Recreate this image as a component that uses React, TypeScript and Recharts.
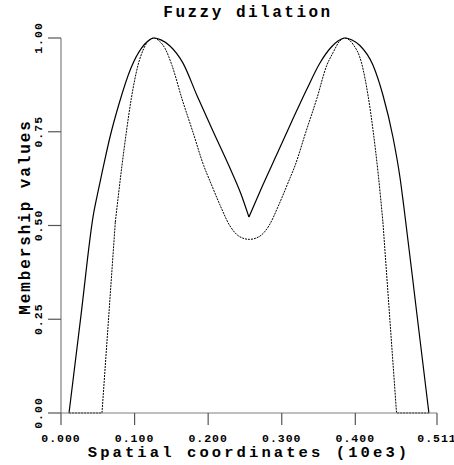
import { LineChart, Line, XAxis, YAxis } from 'recharts';

// dilated membership function (outer, solid)
const dilatedX = [
  0.0109, 0.0272, 0.0442, 0.0493, 0.0571, 0.0666, 0.0788, 0.0951, 0.1094, 0.1182, 0.1264, 0.1359,
  0.1481, 0.1658, 0.1848, 0.2065, 0.2296, 0.2446, 0.2554, 0.2731, 0.2935, 0.3139, 0.3342, 0.3519,
  0.3668, 0.3764, 0.3859, 0.3954, 0.4062, 0.4239, 0.4375, 0.4511, 0.4606, 0.466, 0.483, 0.5,
];
const dilatedY = [
  0, 0.261, 0.531, 0.5813, 0.653, 0.736, 0.824, 0.92, 0.973, 0.992, 1.0, 0.995,
  0.9787, 0.933, 0.8467, 0.752, 0.6533, 0.584, 0.5227, 0.6027, 0.6907, 0.7787, 0.864, 0.9333,
  0.9747, 0.992, 1.0, 0.9947, 0.98, 0.928, 0.848, 0.736, 0.6293, 0.5493, 0.2747, 0,
];

// original membership function (inner, dotted)
const originalX = [
  0.011, 0.0557, 0.0738, 0.0829, 0.0888, 0.0955, 0.1046, 0.1123, 0.119, 0.126, 0.133, 0.1417,
  0.1508, 0.1644, 0.1793, 0.1938, 0.203, 0.216, 0.2296, 0.243, 0.256, 0.269, 0.2825, 0.296,
  0.309, 0.3182, 0.3327, 0.3476, 0.3612, 0.37, 0.378, 0.386, 0.392, 0.397, 0.4085, 0.4175,
  0.424, 0.431, 0.4375, 0.456, 0.5,
];
const originalY = [
  0, 0, 0.509, 0.6605, 0.749, 0.838, 0.927, 0.971, 0.993, 1.0, 0.993, 0.971,
  0.927, 0.838, 0.749, 0.6605, 0.616, 0.555, 0.499, 0.47, 0.463, 0.47, 0.499, 0.555,
  0.616, 0.6605, 0.749, 0.838, 0.927, 0.962, 0.99, 1.0, 0.994, 0.983, 0.933, 0.844,
  0.755, 0.639, 0.509, 0, 0,
];

const xTicks = [0, 0.1, 0.2, 0.3, 0.4, 0.511];
const yTicks = [0, 0.25, 0.5, 0.75, 1.0];

const dilated = dilatedX.map((x, i) => ({ x, y: dilatedY[i] }));
const original = originalX.map((x, i) => ({ x, y: originalY[i] }));

// smooth arches, sharp V in the dilated curve, straight feet on the original
const dilatedParts = [
  { data: dilated.slice(0, 19), type: 'monotone' },
  { data: dilated.slice(18), type: 'monotone' },
];
const originalParts = [
  { data: original.slice(0, 3), type: 'linear' },
  { data: original.slice(2, 39), type: 'monotone' },
  { data: original.slice(38), type: 'linear' },
];

const FONT = '"Liberation Mono", "DejaVu Sans Mono", monospace';

// eslint-disable-next-line @typescript-eslint/no-explicit-any
function XTick({ x, y, payload }: any) {
  return (
    <text
      x={x}
      y={y + 15}
      textAnchor="middle"
      fontFamily={FONT}
      fontWeight="bold"
      fontSize={11.5}
      letterSpacing={1}
      fill="#000"
    >
      {Number(payload.value).toFixed(3)}
    </text>
  );
}

// eslint-disable-next-line @typescript-eslint/no-explicit-any
function YTick({ x, y, payload }: any) {
  const bx = x - 4;
  return (
    <text
      x={bx}
      y={y}
      transform={`rotate(-90, ${bx}, ${y})`}
      textAnchor="middle"
      fontFamily={FONT}
      fontWeight="bold"
      fontSize={11.5}
      letterSpacing={1}
      fill="#000"
    >
      {Number(payload.value).toFixed(2)}
    </text>
  );
}

export default function App() {
  return (
    <div style={{ position: 'fixed', left: 0, top: 0, width: 454, height: 465, background: '#fff' }}>
      <LineChart
        width={454}
        height={465}
        margin={{ top: 38, right: 17, left: 0, bottom: 0 }}
      >
        <XAxis
          type="number"
          dataKey="x"
          domain={[0, 0.511]}
          ticks={xTicks}
          allowDataOverflow
          height={52}
          tickSize={12}
          axisLine={{ stroke: '#808080', strokeWidth: 1.2 }}
          tickLine={{ stroke: '#555', strokeWidth: 1.2 }}
          tick={<XTick />}
          interval={0}
        />
        <YAxis
          type="number"
          dataKey="y"
          domain={[0, 1]}
          ticks={yTicks}
          width={61}
          tickSize={13}
          axisLine={{ stroke: '#808080', strokeWidth: 1.2 }}
          tickLine={{ stroke: '#555', strokeWidth: 1.2 }}
          tick={<YTick />}
          interval={0}
        />
        {originalParts.map((p, i) => (
          <Line
            key={`orig-${i}`}
            data={p.data}
            dataKey="y"
            // eslint-disable-next-line @typescript-eslint/no-explicit-any
            type={p.type as any}
            stroke="#000"
            strokeWidth={1}
            strokeDasharray="2 1"
            dot={false}
            isAnimationActive={false}
          />
        ))}
        {dilatedParts.map((p, i) => (
          <Line
            key={`dil-${i}`}
            data={p.data}
            dataKey="y"
            // eslint-disable-next-line @typescript-eslint/no-explicit-any
            type={p.type as any}
            stroke="#000"
            strokeWidth={1.2}
            dot={false}
            isAnimationActive={false}
          />
        ))}
      </LineChart>
      <svg
        width={454}
        height={465}
        style={{ position: 'absolute', left: 0, top: 0, pointerEvents: 'none' }}
      >
        <text
          x={248}
          y={17}
          textAnchor="middle"
          fontFamily={FONT}
          fontWeight="bold"
          fontSize={16}
          letterSpacing={2.5}
        >
          Fuzzy dilation
        </text>
        <text
          x={249}
          y={457}
          textAnchor="middle"
          fontFamily={FONT}
          fontWeight="bold"
          fontSize={15.5}
          letterSpacing={3.1}
        >
          Spatial coordinates (10e3)
        </text>
        <text
          x={30}
          y={217}
          transform="rotate(-90, 30, 217)"
          textAnchor="middle"
          fontFamily={FONT}
          fontWeight="bold"
          fontSize={16}
          letterSpacing={1.9}
        >
          Membership values
        </text>
      </svg>
    </div>
  );
}
